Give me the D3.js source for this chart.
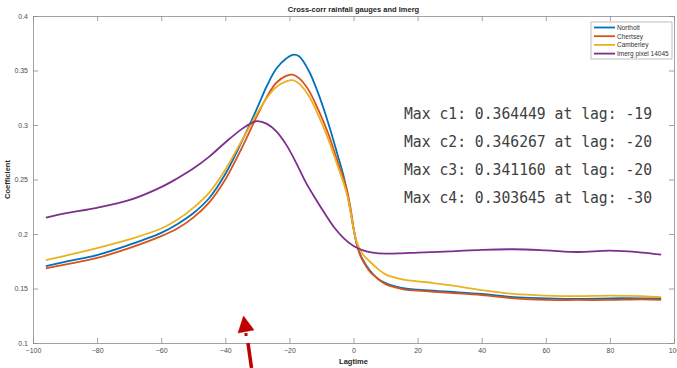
<!DOCTYPE html>
<html>
<head>
<meta charset="utf-8">
<script src="https://cdn.jsdelivr.net/npm/d3@7"></script>
<style>
  body { margin: 0; background: #fff; }
  svg { display: block; }
  .tick text { font-family: "Liberation Sans", Arial, sans-serif; font-size: 7px; fill: #4d4d4d; }
</style>
</head>
<body>
<svg id="chart" width="677" height="368"></svg>
<script>
// lag values for each series
var lags = [-96,-90,-80,-70,-60,-55,-50,-45,-40,-35,-30,-27,-24,-21,-19,-17,-14,-11,-8,-5,-3,-2,-1,0,1,2,3,5,8,10,13,16,20,25,30,40,50,60,70,80,90,96];
var northolt = [0.1706,0.1745,0.1807,0.190,0.201,0.209,0.219,0.233,0.255,0.284,0.316,0.336,0.352,0.361,0.3644,0.363,0.350,0.329,0.303,0.273,0.252,0.238,0.222,0.205,0.191,0.182,0.176,0.167,0.158,0.155,0.152,0.150,0.149,0.148,0.147,0.145,0.142,0.141,0.1405,0.141,0.141,0.141];
var chertsey = [0.1685,0.172,0.178,0.187,0.198,0.205,0.215,0.229,0.250,0.278,0.309,0.326,0.339,0.345,0.3462,0.343,0.332,0.314,0.293,0.267,0.250,0.240,0.225,0.206,0.191,0.181,0.175,0.166,0.158,0.154,0.151,0.149,0.148,0.147,0.146,0.144,0.141,0.1395,0.1395,0.1395,0.140,0.1395];
var camberley = [0.176,0.180,0.187,0.195,0.205,0.213,0.224,0.238,0.259,0.285,0.311,0.325,0.335,0.340,0.3411,0.338,0.327,0.309,0.288,0.263,0.246,0.236,0.222,0.205,0.193,0.186,0.181,0.175,0.167,0.163,0.160,0.158,0.1566,0.155,0.153,0.1486,0.145,0.1435,0.143,0.1435,0.143,0.142];

var lagsImerg = [-96,-90,-80,-70,-60,-55,-50,-45,-40,-35,-32,-30,-27,-24,-21,-18,-15,-12,-9,-6,-3,0,3,6,10,15,20,30,40,50,60,70,80,90,96];
var imerg = [0.215,0.219,0.224,0.231,0.243,0.251,0.260,0.271,0.284,0.296,0.3015,0.3036,0.301,0.294,0.282,0.266,0.248,0.233,0.219,0.206,0.196,0.189,0.185,0.183,0.182,0.1823,0.183,0.184,0.1855,0.186,0.185,0.1835,0.1847,0.183,0.181];

var seriesNames = ["Northolt", "Chertsey", "Camberley", "Imerg pixel 14045"];
var colors = ["#0072BD", "#D95319", "#EDB120", "#7E2F8E"];
var xTicks = [-100,-80,-60,-40,-20,0,20,40,60,80,100];
var yTicks = [0.1,0.15,0.2,0.25,0.3,0.35,0.4];
var notes = [
  "Max c1: 0.364449 at lag: -19",
  "Max c2: 0.346267 at lag: -20",
  "Max c3: 0.341160 at lag: -20",
  "Max c4: 0.303645 at lag: -30"
];

var margin = {top: 16, right: 3, bottom: 25, left: 33};
var W = 677, H = 368;
var width = W - margin.left - margin.right;
var height = H - margin.top - margin.bottom;

var svg = d3.select("#chart");
var g = svg.append("g").attr("transform", "translate(" + margin.left + "," + margin.top + ")");

var x = d3.scaleLinear().domain([-100, 100]).range([0, width]);
var y = d3.scaleLinear().domain([0.1, 0.4]).range([height, 0]);

var fmt = function(d) { return d3.format("")(+d.toFixed(2)); };

// axes, MATLAB style box with inward ticks
var axisColor = "#8c8c8c";
var xAxis = g.append("g").attr("transform", "translate(0," + height + ")")
    .call(d3.axisBottom(x).tickValues(xTicks).tickSizeInner(-5).tickSizeOuter(0).tickPadding(6));
var yAxis = g.append("g")
    .call(d3.axisLeft(y).tickValues(yTicks).tickFormat(fmt).tickSizeInner(-5).tickSizeOuter(0).tickPadding(5));
var xTop = g.append("g")
    .call(d3.axisTop(x).tickValues(xTicks).tickSizeInner(-5).tickSizeOuter(0).tickFormat(""));
var yRight = g.append("g").attr("transform", "translate(" + width + ",0)")
    .call(d3.axisRight(y).tickValues(yTicks).tickSizeInner(-5).tickSizeOuter(0).tickFormat(""));
[xAxis, yAxis, xTop, yRight].forEach(function(a) {
  a.selectAll("path, line").attr("stroke", axisColor).attr("stroke-width", 0.8);
});
xAxis.selectAll("text").attr("dy", "0.5em");

// lines
var allSeries = [
  {lags: lags, vals: northolt},
  {lags: lags, vals: chertsey},
  {lags: lags, vals: camberley},
  {lags: lagsImerg, vals: imerg}
];
var line = d3.line()
    .x(function(d) { return x(d[0]); })
    .y(function(d) { return y(d[1]); })
    .curve(d3.curveCatmullRom.alpha(0.5));

allSeries.forEach(function(s, i) {
  var pts = s.lags.map(function(l, j) { return [l, s.vals[j]]; });
  g.append("path")
      .datum(pts)
      .attr("fill", "none")
      .attr("stroke", colors[i])
      .attr("stroke-width", 1.8)
      .attr("stroke-linejoin", "round")
      .attr("d", line);
});

// title and labels
svg.append("text")
    .attr("x", margin.left + x(0)).attr("y", 12)
    .attr("text-anchor", "middle")
    .attr("font-family", "Liberation Sans, Arial, sans-serif")
    .attr("font-size", 7.5).attr("font-weight", "bold").attr("fill", "#262626")
    .text("Cross-corr rainfall gauges and Imerg");
svg.append("text")
    .attr("x", margin.left + x(0)).attr("y", 364)
    .attr("text-anchor", "middle")
    .attr("font-family", "Liberation Sans, Arial, sans-serif")
    .attr("font-size", 7.5).attr("font-weight", "bold").attr("fill", "#262626")
    .text("Lagtime");
svg.append("text")
    .attr("transform", "translate(10," + (margin.top + y(0.25)) + ") rotate(-90)")
    .attr("text-anchor", "middle")
    .attr("font-family", "Liberation Sans, Arial, sans-serif")
    .attr("font-size", 7.5).attr("font-weight", "bold").attr("fill", "#262626")
    .text("Coefficient");

// legend
var legend = svg.append("g").attr("transform", "translate(591,22)");
legend.append("rect")
    .attr("width", 81).attr("height", 37)
    .attr("fill", "#fff").attr("stroke", "#b0b0b0").attr("stroke-width", 0.8);
seriesNames.forEach(function(name, i) {
  var ly = 5.5 + i * 8.7;
  legend.append("line")
      .attr("x1", 3).attr("x2", 24).attr("y1", ly).attr("y2", ly)
      .attr("stroke", colors[i]).attr("stroke-width", 1.8);
  legend.append("text")
      .attr("x", 26).attr("y", ly + 2.3)
      .attr("font-family", "Liberation Sans, Arial, sans-serif")
      .attr("font-size", 6.5).attr("fill", "#333")
      .text(name);
});

// annotation
notes.forEach(function(t, i) {
  svg.append("text")
      .attr("x", 404).attr("y", 119 + i * 28)
      .attr("font-family", "DejaVu Sans Mono, monospace")
      .attr("font-size", 15.5).attr("fill", "#404040")
      .attr("textLength", 248).attr("lengthAdjust", "spacingAndGlyphs")
      .text(t);
});

// red arrow
var arrow = svg.append("g").attr("fill", "#c00000").attr("stroke", "#c00000");
arrow.append("polygon").attr("points", "243.5,316 238,333 254,330").attr("stroke-width", 0.5);
arrow.append("rect").attr("x", 244.5).attr("y", 333).attr("width", 3).attr("height", 3).attr("stroke", "none");
arrow.append("line").attr("x1", 248).attr("y1", 343).attr("x2", 251.5).attr("y2", 368).attr("stroke-width", 3.5);
</script>
</body>
</html>
